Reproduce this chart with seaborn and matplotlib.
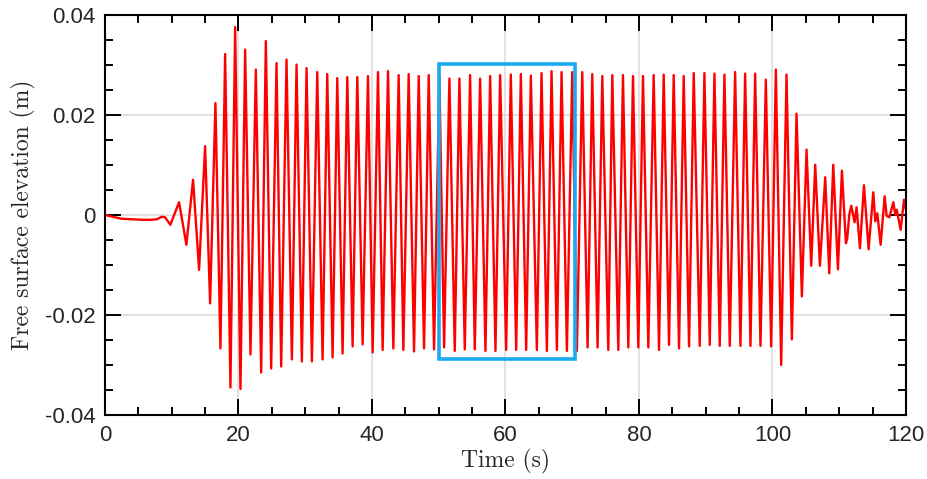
import numpy as np
import pandas as pd
import matplotlib
matplotlib.use("Agg")
import matplotlib.pyplot as plt
import seaborn as sns
from matplotlib.patches import Rectangle
from matplotlib.ticker import MultipleLocator, FixedLocator

# wave gauge record: local extrema (time in s, elevation in m)
time_s = [
    0.0, 0.5, 1.5, 2.5, 4.0, 5.5, 7.0, 7.8, 8.5, 9.0, 9.8,
    11.1, 12.2, 13.2, 14.1, 15.0, 15.75, 16.55, 17.3, 18.0, 18.8, 19.5,
    20.3, 21.0, 21.8, 22.6, 23.4, 24.1, 24.9, 25.7, 26.4, 27.2, 28.0, 28.7, 29.5,
    30.2, 31.0, 31.8, 32.6, 33.3, 34.1, 34.8, 35.6, 36.3, 37.1, 37.8, 38.6, 39.4,
    40.1, 40.9, 41.6, 42.4, 43.2, 44.0, 44.7, 45.5, 46.3, 47.0, 47.8, 48.5, 49.3,
    50.1, 50.8, 51.6, 52.4, 53.1, 53.9, 54.7, 55.4, 56.2, 57.0, 57.7, 58.5, 59.2,
    60.1, 60.8, 61.6, 62.3, 63.1, 63.8, 64.7, 65.4, 66.2, 66.9, 67.7, 68.4, 69.2,
    70.0, 70.7, 71.5, 72.3, 73.0, 73.8, 74.5, 75.4, 76.0, 76.9, 77.6, 78.4, 79.1,
    79.9, 80.6, 81.4, 82.2, 83.0, 83.7, 84.5, 85.2, 86.0, 86.7, 87.5, 88.2, 89.1,
    89.8, 90.6, 91.3, 92.1, 92.8, 93.6, 94.4, 95.2, 95.9, 96.7, 97.4, 98.2, 99.0,
    99.8, 100.5, 101.3, 102.1, 102.9, 103.6, 104.4, 105.1, 105.8, 106.4, 107.1,
    107.9, 108.5, 109.1, 109.8, 110.4, 111.0, 111.2, 111.5, 111.8, 112.3, 112.6,
    113.1, 113.7, 114.4, 115.1, 115.4, 115.7, 116.2, 116.8, 117.1, 117.5, 118.1,
    118.4, 118.6, 119.2, 119.7, 120.0,
]
elevation_m = [
    0.0, -0.0002, -0.0005, -0.0008, -0.0009, -0.001, -0.001, -0.0009, -0.0004, -0.0005, -0.002,
    0.0025, -0.006, 0.007, -0.011, 0.0137, -0.0177, 0.0223, -0.0267, 0.0321, -0.0345, 0.0375,
    -0.0348, 0.033, -0.0279, 0.029, -0.0315, 0.0347, -0.0307, 0.0303, -0.0303, 0.031, -0.0289, 0.030, -0.0293,
    0.0293, -0.0293, 0.0285, -0.0289, 0.0281, -0.0285, 0.0273, -0.0277, 0.0275, -0.0263, 0.0275, -0.0259, 0.0277,
    -0.0275, 0.0285, -0.027, 0.0287, -0.0267, 0.0279, -0.027, 0.0281, -0.0273, 0.0277, -0.0267, 0.0279, -0.0269,
    0.0275, -0.0265, 0.0272, -0.0272, 0.0272, -0.0269, 0.0279, -0.0269, 0.0272, -0.0272, 0.0277, -0.0272, 0.0279,
    -0.027, 0.028, -0.027, 0.0281, -0.027, 0.0278, -0.027, 0.0283, -0.0272, 0.0287, -0.027, 0.0285, -0.0272,
    0.0285, -0.0272, 0.0285, -0.0265, 0.0281, -0.0265, 0.0277, -0.027, 0.0279, -0.027, 0.0279, -0.0265, 0.0277,
    -0.0265, 0.0277, -0.0265, 0.0279, -0.027, 0.028, -0.026, 0.0279, -0.0267, 0.0277, -0.0263, 0.0283, -0.0262,
    0.0283, -0.026, 0.0282, -0.0262, 0.028, -0.0262, 0.0285, -0.0262, 0.0282, -0.0262, 0.0282, -0.0262, 0.027,
    -0.0263, 0.029, -0.030, 0.028, -0.0249, 0.0202, -0.0163, 0.013, -0.0102, 0.010, -0.0102,
    0.0075, -0.0117, 0.010, -0.0109, 0.0088, -0.0057, -0.0047, 0.0, 0.0018, -0.0015, 0.0015,
    -0.0067, 0.0059, -0.0069, 0.0045, -0.0013, 0.0003, -0.006, 0.0037, -0.0002, -0.0005, 0.0025,
    0.0, 0.001, -0.003, 0.003, 0.001,
]

# highlighted window
box_t = [50.0, 70.4]
box_eta = [-0.0289, 0.0301]

x_ticks = [0, 20, 40, 60, 80, 100, 120]
x_labels = ["0", "20", "40", "60", "80", "100", "120"]
y_ticks = [-0.04, -0.02, 0, 0.02, 0.04]
y_labels = ["-0.04", "-0.02", "0", "0.02", "0.04"]

df = pd.DataFrame({"t": time_s, "eta": elevation_m})

sns.set_style("white")
fig = plt.figure(figsize=(9.28, 4.79), dpi=100)
ax = fig.add_axes([0.1131, 0.1336, 0.8632, 0.8361])

ax.grid(True, which="major", color="#dadada", linewidth=1.1, zorder=0)
ax.set_axisbelow(True)

sns.lineplot(data=df, x="t", y="eta", ax=ax, color="#ff0000", linewidth=1.7,
             sort=False, estimator=None, solid_joinstyle="round", zorder=2)

ax.add_patch(Rectangle((box_t[0], box_eta[0]), box_t[1] - box_t[0], box_eta[1] - box_eta[0],
                       fill=False, edgecolor="#1ba9f0", linewidth=2.6, zorder=3))

ax.set_xlim(0, 120)
ax.set_ylim(-0.04, 0.04)
ax.xaxis.set_major_locator(FixedLocator(x_ticks))
ax.set_xticklabels(x_labels)
ax.yaxis.set_major_locator(FixedLocator(y_ticks))
ax.set_yticklabels(y_labels)
ax.xaxis.set_minor_locator(MultipleLocator(5))
ax.yaxis.set_minor_locator(MultipleLocator(0.005))

ax.tick_params(which="both", direction="in", top=True, right=True, bottom=True, left=True,
               width=1.4, color="black")
ax.tick_params(which="major", length=11.5, pad=7, labelsize=16)
ax.tick_params(which="minor", length=6)
for lab in ax.get_xticklabels() + ax.get_yticklabels():
    lab.set_fontfamily("Liberation Sans")

for sp in ax.spines.values():
    sp.set_visible(True)
    sp.set_color("black")
    sp.set_linewidth(1.5)

ax.set_xlabel("Time (s)", fontfamily="cmr10", fontsize=17, labelpad=2)
ax.set_ylabel("Free surface elevation (m)", fontfamily="cmr10", fontsize=17, labelpad=6)

fig.savefig("out.png", dpi=100)
